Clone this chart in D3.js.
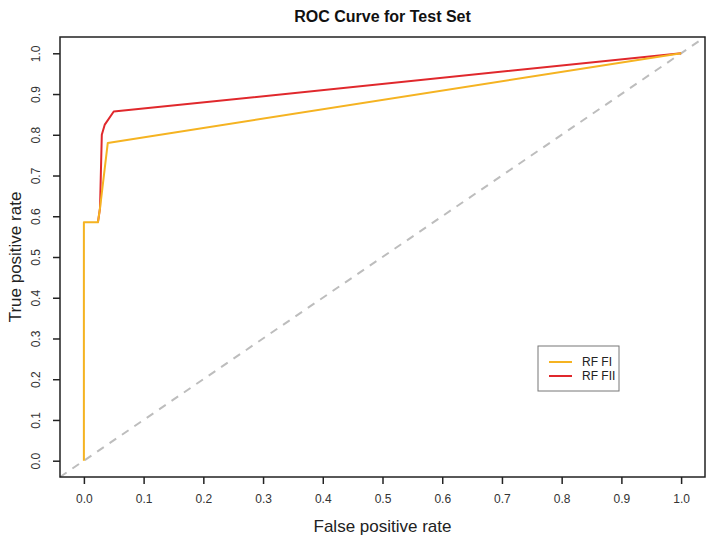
<!DOCTYPE html>
<html>
<head>
<meta charset="utf-8">
<script src="https://cdn.jsdelivr.net/npm/d3@7"></script>
<style>
  body { margin: 0; background: #fff; }
  text { font-family: "Liberation Sans", Arial, sans-serif; }
</style>
</head>
<body>
<div id="chart"></div>
<script>
// ROC points
var fprFI  = [0, 0, 0.0235, 0.027, 0.040, 1];
var tprFI  = [0, 0.585, 0.585, 0.62, 0.780, 1];
var fprFII = [0.0235, 0.027, 0.030, 0.035, 0.050, 1];
var tprFII = [0.585, 0.62, 0.800, 0.825, 0.857, 1];
var tickValues = [0, 0.1, 0.2, 0.3, 0.4, 0.5, 0.6, 0.7, 0.8, 0.9, 1.0];
var seriesNames = ["RF FI", "RF FII"];
var seriesColors = ["#f5b321", "#e0282c"];

var W = 709, H = 539;
var box = {left: 60, right: 705, top: 37, bottom: 477};

var svg = d3.select("#chart").append("svg")
    .attr("width", W)
    .attr("height", H);

// R style 4% padding on each side
var x = d3.scaleLinear()
    .domain([-0.04, 1.04])
    .range([box.left, box.right]);
var y = d3.scaleLinear()
    .domain([-0.04, 1.04])
    .range([box.bottom, box.top]);

var line = d3.line()
    .x(function(d){ return x(d[0]) })
    .y(function(d){ return y(d[1]) });

// diagonal
svg.append("path")
    .datum([[-0.04, -0.04], [1.04, 1.04]])
    .attr("d", line)
    .attr("fill", "none")
    .attr("stroke", "#bdbdbd")
    .attr("stroke-width", 2)
    .attr("stroke-dasharray", "8,7");

var series = [
  {name: seriesNames[1], color: seriesColors[1], pts: d3.zip(fprFII, tprFII)},
  {name: seriesNames[0], color: seriesColors[0], pts: d3.zip(fprFI, tprFI)}
];

svg.selectAll(".roc")
  .data(series)
  .enter()
  .append("path")
    .attr("class", "roc")
    .attr("d", function(d){ return line(d.pts) })
    .attr("fill", "none")
    .attr("stroke", function(d){ return d.color })
    .attr("stroke-width", 2)
    .attr("stroke-linejoin", "round");

// frame
svg.append("rect")
    .attr("x", box.left)
    .attr("y", box.top)
    .attr("width", box.right - box.left)
    .attr("height", box.bottom - box.top)
    .attr("fill", "none")
    .attr("stroke", "#222")
    .attr("stroke-width", 1.5);

// x axis
var xAxis = svg.append("g")
    .attr("transform", "translate(0," + box.bottom + ")")
    .call(d3.axisBottom(x).tickValues(tickValues).tickFormat(d3.format(".1f")).tickSize(7).tickPadding(10));
xAxis.select(".domain").remove();
xAxis.selectAll("line").attr("stroke", "#222").attr("stroke-width", 1.5);
xAxis.selectAll("text").attr("font-size", 12).attr("fill", "#333")
    .style("font-family", "Liberation Sans, Arial, sans-serif");

// y axis, labels rotated like R
var yAxis = svg.append("g")
    .attr("transform", "translate(" + box.left + ",0)")
    .call(d3.axisLeft(y).tickValues(tickValues).tickFormat(d3.format(".1f")).tickSize(7));
yAxis.select(".domain").remove();
yAxis.selectAll("line").attr("stroke", "#222").attr("stroke-width", 1.5);
yAxis.selectAll("text")
    .attr("x", null).attr("dy", null)
    .attr("text-anchor", "middle")
    .attr("transform", "translate(-20,0) rotate(-90)")
    .attr("font-size", 12).attr("fill", "#333")
    .style("font-family", "Liberation Sans, Arial, sans-serif");

// titles
svg.append("text")
    .attr("x", (box.left + box.right) / 2)
    .attr("y", 22)
    .attr("text-anchor", "middle")
    .attr("font-size", 16)
    .attr("font-weight", "bold")
    .attr("fill", "#111")
    .text("ROC Curve for Test Set");

svg.append("text")
    .attr("x", (box.left + box.right) / 2)
    .attr("y", 532)
    .attr("text-anchor", "middle")
    .attr("font-size", 17)
    .attr("fill", "#222")
    .text("False positive rate");

svg.append("text")
    .attr("transform", "translate(21," + ((box.top + box.bottom) / 2) + ") rotate(-90)")
    .attr("text-anchor", "middle")
    .attr("font-size", 17)
    .attr("fill", "#222")
    .text("True positive rate");

// legend
var lg = svg.append("g").attr("transform", "translate(538,346)");
lg.append("rect")
    .attr("width", 81)
    .attr("height", 45)
    .attr("fill", "#fff")
    .attr("stroke", "#777")
    .attr("stroke-width", 1);
var items = lg.selectAll(".item")
  .data([series[1], series[0]])
  .enter()
  .append("g")
    .attr("transform", function(d, i){ return "translate(0," + (16 + i * 14) + ")" });
items.append("line")
    .attr("x1", 11).attr("x2", 34)
    .attr("stroke", function(d){ return d.color })
    .attr("stroke-width", 2);
items.append("text")
    .attr("x", 44)
    .attr("dy", "0.35em")
    .attr("font-size", 12)
    .attr("fill", "#222")
    .text(function(d){ return d.name });
</script>
</body>
</html>
